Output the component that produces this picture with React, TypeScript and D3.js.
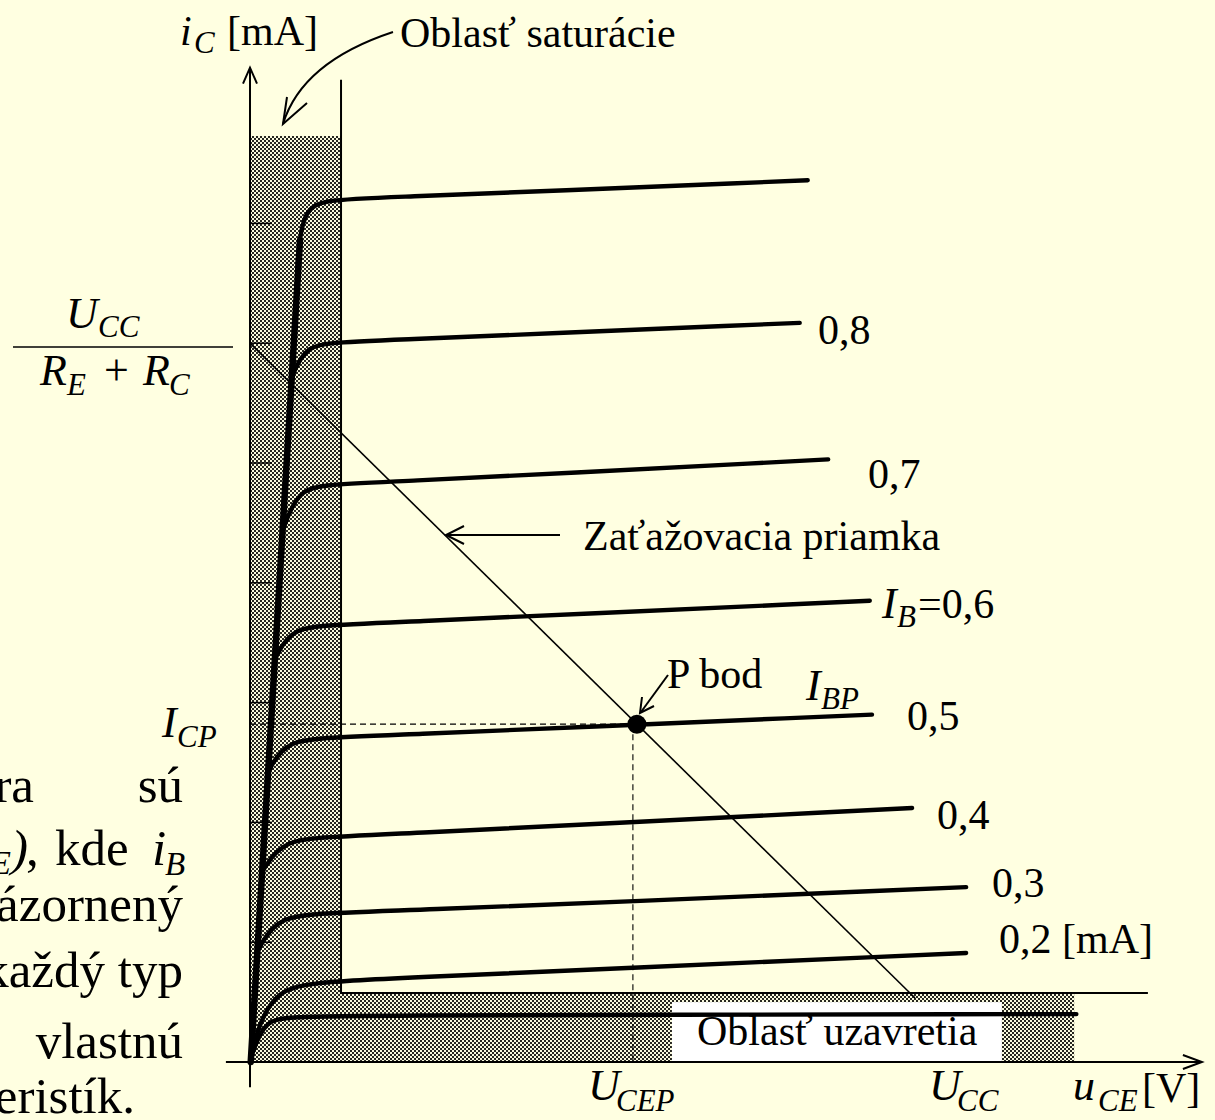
import React from "react";
import * as d3 from "d3";

const W = 1215;
const H = 1120;

// Axis domains: collector-emitter voltage uCE [V] and collector current iC [mA]
const U_DOMAIN: [number, number] = [0, 13];
const I_DOMAIN: [number, number] = [0, 8.3];
const I_TICKS = [1, 2, 3, 4, 5, 6, 7];

// Heavy boundary line of the saturation region (origin up to the knee of the top curve)
const SAT_BOUNDARY: [number, number][] = [[0.01, 0], [0.685, 6.86]];

// Output characteristics iC = f(uCE) for constant base current iB.
// Each curve: branch point on the boundary, knee corner, start of flat part, end point.
const IB_VALUES = ["0,9", "0,8", "0,7", "0,6", "0,5", "0,4", "0,3", "0,2", "0,1"];
const BRANCH: [number, number][] = [
  [0.64, 6.44], [0.55, 5.68], [0.44, 4.42], [0.34, 3.36], [0.25, 2.42],
  [0.16, 1.58], [0.10, 0.92], [0.03, 0.10], [0.01, 0.03],
];
const KNEE: [number, number][] = [
  [0.68, 7.20], [0.76, 6.00], [0.67, 4.82], [0.57, 3.64], [0.49, 2.70],
  [0.45, 1.87], [0.38, 1.24], [0.30, 0.65], [0.20, 0.37],
];
const FLAT: [number, number][] = [
  [1.30, 7.20], [1.30, 6.01], [1.30, 4.82], [1.30, 3.65], [1.30, 2.71],
  [1.30, 1.88], [1.30, 1.24], [1.27, 0.68], [0.68, 0.39],
];
const END: [number, number][] = [
  [7.64, 7.36], [7.53, 6.17], [7.92, 5.03], [8.49, 3.85], [8.52, 2.90],
  [9.07, 2.12], [9.81, 1.46], [9.81, 0.91], [11.32, 0.40],
];

// Regions: saturation (uCE < U_SAT) and cutoff (iC < I_CUT)
const U_SAT = 1.247;
const I_SAT_TOP = 7.73;
const I_SAT_LINE_TOP = 8.2;
const I_CUT = 0.576;
const U_CUT_HATCH_END = 11.29;
const U_CUT_LINE_END = 12.3;

// Load line from Ucc/(Re+Rc) on the current axis toward Ucc on the voltage axis
const LOAD_LINE: [number, number][] = [[0, 6.0], [9.11, 0.534]];

// Quiescent (operating) point P
const P_POINT: [number, number] = [5.3, 2.82];

// Label box of the cutoff region
const CUT_BOX: [number, number, number, number] = [5.78, 0, 10.3, 0.5];

const x = d3.scaleLinear().domain(U_DOMAIN).range([250, 250 + 13 * 73]);
const y = d3.scaleLinear().domain(I_DOMAIN).range([1062, 1062 - 8.3 * 119.8]);

const curveGen = d3
  .line<[number, number]>()
  .x((d) => x(d[0]))
  .y((d) => y(d[1]))
  .curve(d3.curveBasis);

const straight = d3
  .line<[number, number]>()
  .x((d) => x(d[0]))
  .y((d) => y(d[1]));

const FONT = "'Liberation Serif', 'Times New Roman', Times, serif";
const BG = "#ffffe1";

function T(props: {
  x: number;
  y: number;
  s?: number;
  i?: boolean;
  a?: "start" | "middle" | "end";
  children: React.ReactNode;
}) {
  return (
    <text
      x={props.x}
      y={props.y}
      fontSize={props.s ?? 42}
      fontStyle={props.i ? "italic" : "normal"}
      textAnchor={props.a ?? "start"}
      fill="#000"
    >
      {props.children}
    </text>
  );
}

export default function App() {
  const hatchPoly: [number, number][] = [
    [0, 0],
    [0, I_SAT_TOP],
    [U_SAT, I_SAT_TOP],
    [U_SAT, I_CUT],
    [U_CUT_HATCH_END, I_CUT],
    [U_CUT_HATCH_END, 0],
  ];
  const border: [number, number][] = [
    [U_SAT, I_SAT_LINE_TOP],
    [U_SAT, I_CUT],
    [U_CUT_LINE_END, I_CUT],
  ];

  // saturation-region label arrow
  const satArrow = d3.path();
  satArrow.moveTo(393, 32);
  satArrow.quadraticCurveTo(302, 62, 283, 124);

  const x0 = x(0);
  const y0 = y(0);
  const yTop = y(8.3);
  const xEnd = x(13.04);

  return (
    <svg
      width={W}
      height={H}
      style={{ position: "absolute", left: 0, top: 0, display: "block" }}
      fontFamily={FONT}
    >
      <defs>
        <pattern id="hatch" patternUnits="userSpaceOnUse" width={4} height={4}>
          <rect width={4} height={4} fill="#fafade" />
          <rect x={0} y={0} width={2} height={2} fill="#262620" />
          <rect x={2} y={2} width={2} height={2} fill="#262620" />
        </pattern>
      </defs>
      <rect width={W} height={H} fill={BG} />

      {/* hatched saturation and cutoff regions */}
      <path d={straight(hatchPoly)! + "Z"} fill="url(#hatch)" />
      <rect
        x={x(CUT_BOX[0])}
        y={y(CUT_BOX[3])}
        width={x(CUT_BOX[2]) - x(CUT_BOX[0])}
        height={y(CUT_BOX[1]) - y(CUT_BOX[3])}
        fill="#ffffff"
      />
      <path d={straight(border)!} fill="none" stroke="#000" strokeWidth={2} />

      {/* current-axis ticks */}
      {I_TICKS.map((t) => (
        <line key={t} x1={x0} x2={x0 + 22} y1={y(t)} y2={y(t)} stroke="#000" strokeWidth={1.5} />
      ))}

      {/* operating point projections */}
      <line
        x1={x(0)}
        x2={x(P_POINT[0])}
        y1={y(P_POINT[1])}
        y2={y(P_POINT[1])}
        stroke="#000"
        strokeWidth={1.1}
        strokeDasharray="6 4"
      />
      <line
        x1={x(P_POINT[0]) - 4}
        x2={x(P_POINT[0]) - 4}
        y1={y(P_POINT[1])}
        y2={y(0)}
        stroke="#000"
        strokeWidth={1.1}
        strokeDasharray="6 4"
      />

      {/* load line */}
      <path d={straight(LOAD_LINE)!} fill="none" stroke="#000" strokeWidth={1.6} />

      {/* saturation boundary */}
      <path d={straight(SAT_BOUNDARY)!} fill="none" stroke="#000" strokeWidth={6.5} strokeLinecap="round" />

      {/* output characteristics */}
      {IB_VALUES.map((name, k) => (
        <path
          key={name}
          d={curveGen([BRANCH[k], KNEE[k], FLAT[k], END[k]])!}
          fill="none"
          stroke="#000"
          strokeWidth={4.4}
          strokeLinecap="round"
        />
      ))}

      <circle cx={x(P_POINT[0])} cy={y(P_POINT[1])} r={9.5} fill="#000" />

      {/* axes */}
      <line x1={x0} x2={x0} y1={y(-0.21)} y2={yTop} stroke="#000" strokeWidth={2} />
      <path d={`M${x0 - 7},${yTop + 16}L${x0},${yTop}L${x0 + 7},${yTop + 16}`} fill="none" stroke="#000" strokeWidth={2} />
      <line x1={x(-0.33)} x2={xEnd} y1={y0} y2={y0} stroke="#000" strokeWidth={2} />
      <path d={`M${xEnd - 19},${y0 - 7}L${xEnd},${y0}L${xEnd - 19},${y0 + 7}`} fill="none" stroke="#000" strokeWidth={2} />

      {/* annotation arrows */}
      <path d={satArrow.toString()} fill="none" stroke="#000" strokeWidth={2} />
      <path d="M287,97L283,124L307,103" fill="none" stroke="#000" strokeWidth={2} />
      <line x1={560} x2={446} y1={535} y2={535} stroke="#000" strokeWidth={2} />
      <path d="M464,526L446,535L464,544" fill="none" stroke="#000" strokeWidth={2} />
      <line x1={668} x2={641} y1={675} y2={712} stroke="#000" strokeWidth={2} />
      <path d="M642,697L640,713L654,706" fill="none" stroke="#000" strokeWidth={2} />

      {/* axis titles */}
      <T x={180} y={45} i>i</T>
      <T x={194} y={53} s={31} i>C</T>
      <T x={227} y={45}>[mA]</T>
      <T x={400} y={47}>Oblasť saturácie</T>

      <T x={588} y={1100} s={44} i>U</T>
      <T x={616} y={1111} s={31} i>CEP</T>
      <T x={929} y={1100} s={44} i>U</T>
      <T x={957} y={1111} s={31} i>CC</T>
      <T x={1073} y={1100} s={44} i>u</T>
      <T x={1098} y={1111} s={31} i>CE</T>
      <T x={1142} y={1102}>[V]</T>

      {/* Ucc / (Re + Rc) */}
      <T x={66} y={328} s={44} i>U</T>
      <T x={98} y={337} s={31} i>CC</T>
      <line x1={13} x2={233} y1={347} y2={347} stroke="#000" strokeWidth={1.5} />
      <T x={40} y={385} s={44} i>R</T>
      <T x={67} y={395} s={31} i>E</T>
      <T x={104} y={385} s={44}>+</T>
      <T x={143} y={385} s={44} i>R</T>
      <T x={169} y={395} s={31} i>C</T>

      <T x={162} y={737} s={44} i>I</T>
      <T x={177} y={747} s={31} i>CP</T>

      {/* curve labels */}
      <T x={818} y={344}>0,8</T>
      <T x={868} y={488}>0,7</T>
      <T x={583} y={550}>Zaťažovacia priamka</T>
      <T x={882} y={618} s={44} i>I</T>
      <T x={897} y={627} s={31} i>B</T>
      <T x={918} y={618}>=0,6</T>
      <T x={667} y={688}>P bod</T>
      <T x={806} y={700} s={44} i>I</T>
      <T x={821} y={709} s={31} i>BP</T>
      <T x={907} y={730}>0,5</T>
      <T x={937} y={829}>0,4</T>
      <T x={992} y={897}>0,3</T>
      <T x={999} y={953}>0,2 [mA]</T>
      <T x={697} y={1045}>Oblasť uzavretia</T>

      {/* surrounding paragraph text */}
      <T x={34} y={802} s={51} a="end">ra</T>
      <T x={183} y={802} s={51} a="end">sú</T>
      <T x={11} y={874} s={33} i a="end">CE</T>
      <T x={11} y={865} s={51} i>)</T>
      <T x={26} y={865} s={51}>,</T>
      <T x={55} y={865} s={51}>kde</T>
      <T x={152} y={865} s={51} i>i</T>
      <T x={165} y={875} s={33} i>B</T>
      <T x={183} y={921} s={51} a="end">znázornený</T>
      <T x={105} y={987} s={51} a="end">každý</T>
      <T x={183} y={987} s={51} a="end">typ</T>
      <T x={183} y={1058} s={51} a="end">vlastnú</T>
      <T x={135} y={1113} s={51} a="end">charakteristík.</T>
    </svg>
  );
}
